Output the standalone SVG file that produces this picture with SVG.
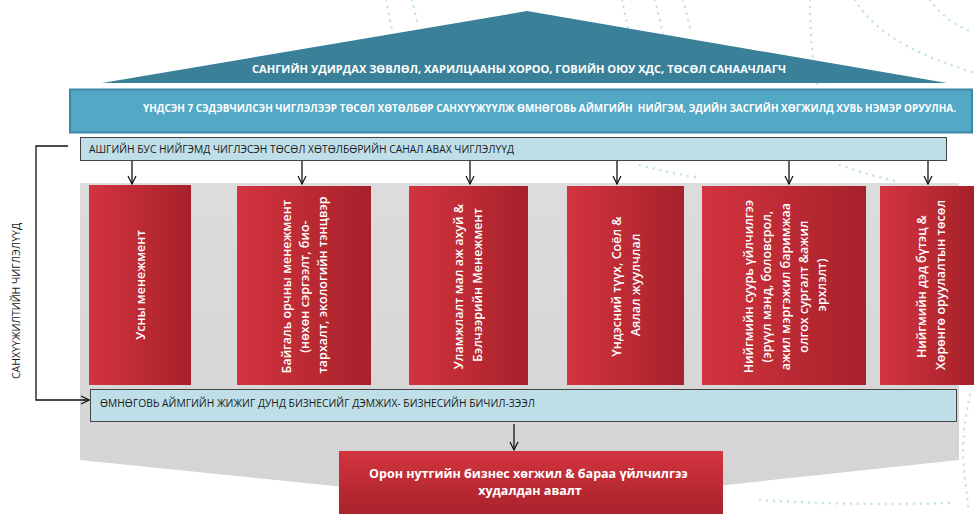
<svg xmlns="http://www.w3.org/2000/svg" width="974" height="514" viewBox="0 0 974 514">
  <defs>
    <linearGradient id="redH" x1="0" y1="0" x2="1" y2="0">
      <stop offset="0" stop-color="#d3343f"/>
      <stop offset="1" stop-color="#a6212a"/>
    </linearGradient>
    <linearGradient id="redV" x1="0" y1="0" x2="0" y2="1">
      <stop offset="0" stop-color="#d2343e"/>
      <stop offset="1" stop-color="#a9222b"/>
    </linearGradient>
    <linearGradient id="grayG" x1="0" y1="0" x2="0" y2="1">
      <stop offset="0" stop-color="#dcdcdc"/>
      <stop offset="1" stop-color="#d4d4d4"/>
    </linearGradient>
    <marker id="arr" viewBox="0 0 10 10" refX="9" refY="5" markerWidth="10" markerHeight="10" markerUnits="userSpaceOnUse" orient="auto">
      <path d="M1,1 L9,5 L1,9" fill="none" stroke="#111" stroke-width="1.2"/>
    </marker>
  </defs>
  <style>
    .dots { fill: none; stroke: #c4e4e7; stroke-width: 2.6; stroke-linecap: round; stroke-dasharray: 0 7; }
    .hdr { font-family: "Open Sans", "DejaVu Sans", sans-serif; font-weight: 700; fill: #ffffff; }
    .bar { font-family: "Open Sans", "DejaVu Sans", sans-serif; font-weight: 400; fill: #1a1a1a; }
    .col { font-family: "Open Sans", "DejaVu Sans", sans-serif; font-weight: 600; font-size: 12.5px; fill: #ffffff; text-anchor: middle; }
    .redbox { fill: url(#redH); }
    .conn { fill: none; stroke: #111; stroke-width: 1.3; }
  </style>
  <rect width="974" height="514" fill="#ffffff"/>

  <!-- background dotted decoration -->
  <g id="decoration">
    <path class="dots" d="M386,0 C388,10 390,20 392,30"/>
    <path class="dots" d="M412,0 C414,8 416,18 418,26"/>
    <path class="dots" d="M622,0 C626,20 630,40 640,60"/>
    <path class="dots" d="M655,0 C660,20 664,40 668,62"/>
    <path class="dots" d="M683,0 C686,10 688,20 690,28"/>
    <path class="dots" d="M810,0 C810,30 812,60 818,88"/>
    <path class="dots" d="M855,0 C870,25 900,50 972,72"/>
    <path class="dots" d="M930,0 C940,15 955,25 972,32"/>
    <path class="dots" d="M640,165 C660,170 680,175 700,178"/>
    <path class="dots" d="M840,165 C860,172 880,178 900,182"/>
    <path class="dots" d="M970,395 C964,420 961,450 965,480 C967,495 968,505 969,512"/>
    <path class="dots" d="M760,500 C820,504 880,505 950,503"/>
  </g>

  <!-- roof -->
  <g id="roof">
    <polygon points="527,11 947,83 102,83" fill="#3a8099"/>
    <text class="hdr" x="252" y="73" font-size="11" textLength="534" lengthAdjust="spacingAndGlyphs">САНГИЙН УДИРДАХ ЗӨВЛӨЛ, ХАРИЛЦААНЫ ХОРОО, ГОВИЙН ОЮУ ХДС, ТӨСӨЛ САНААЧЛАГЧ</text>
  </g>

  <!-- goal bar -->
  <g id="goal">
    <rect x="70" y="89.5" width="902" height="43" fill="#53a8c6" stroke="#3b87a5" stroke-width="2"/>
    <text class="hdr" transform="translate(143,112) scale(1,1.1)" x="0" y="0" font-size="10" textLength="813" lengthAdjust="spacingAndGlyphs" xml:space="preserve">ҮНДСЭН 7 СЭДЭВЧИЛСЭН ЧИГЛЭЛЭЭР ТӨСӨЛ ХӨТӨЛБӨР САНХҮҮЖҮҮЛЖ ӨМНӨГОВЬ АЙМГИЙН  НИЙГЭМ, ЭДИЙН ЗАСГИЙН ХӨГЖИЛД ХУВЬ НЭМЭР ОРУУЛНА.</text>
  </g>

  <!-- top light bar -->
  <g id="proposals">
    <rect x="80.5" y="137.5" width="866" height="23" fill="#bfdfe8" stroke="#444" stroke-width="1"/>
    <text class="bar" x="89" y="152.5" font-size="10" textLength="425" lengthAdjust="spacingAndGlyphs">АШГИЙН БУС НИЙГЭМД ЧИГЛЭСЭН ТӨСӨЛ ХӨТӨЛБӨРИЙН САНАЛ АВАХ ЧИГЛЭЛҮҮД</text>
  </g>

  <!-- gray panel -->
  <g id="panel">
    <polygon points="80,183 959,183 959,460 530,506 80,460" fill="url(#grayG)"/>
  </g>

  <!-- columns -->
  <g id="col1">
    <rect class="redbox" x="89" y="185" width="102" height="200"/>
    <text class="col" transform="translate(140,285) rotate(-90)" y="4.5">Усны менежмент</text>
  </g>
  <g id="col2">
    <rect class="redbox" x="237" y="186" width="134" height="199"/>
    <text class="col" transform="translate(304.5,285) rotate(-90)">
      <tspan x="0" y="-13.8">Байгаль орчны менежмент</tspan>
      <tspan x="0" y="4.5">(нөхөн сэргээлт, био-</tspan>
      <tspan x="0" y="22.8">тархалт, экологийн тэнцвэр</tspan>
    </text>
  </g>
  <g id="col3">
    <rect class="redbox" x="409" y="186" width="119" height="199"/>
    <text class="col" transform="translate(468,285) rotate(-90)">
      <tspan x="0" y="-4.6">Уламжлалт мал аж ахуй &amp;</tspan>
      <tspan x="0" y="13.7">Бэлчээрийн Менежмент</tspan>
    </text>
  </g>
  <g id="col4">
    <rect class="redbox" x="567" y="186" width="117" height="199"/>
    <text class="col" transform="translate(626,285) rotate(-90)">
      <tspan x="0" y="-4.6">Үндэсний түүх, Соёл &amp;</tspan>
      <tspan x="0" y="13.7">Аялал жуулчлал</tspan>
    </text>
  </g>
  <g id="col5">
    <rect class="redbox" x="702" y="186" width="164" height="199"/>
    <text class="col" transform="translate(785,285) rotate(-90)">
      <tspan x="0" y="-32.1">Нийгмийн суурь үйлчилгээ</tspan>
      <tspan x="0" y="-13.8">(эрүүл мэнд, боловсрол,</tspan>
      <tspan x="0" y="4.5">ажил мэргэжил баримжаа</tspan>
      <tspan x="0" y="22.8">олгох сургалт &amp;ажил</tspan>
      <tspan x="0" y="41.1">эрхлэлт)</tspan>
    </text>
  </g>
  <g id="col6">
    <rect class="redbox" x="880" y="186" width="94" height="199"/>
    <text class="col" transform="translate(931,285) rotate(-90)">
      <tspan x="0" y="-4.6">Нийгмийн дэд бүтэц &amp;</tspan>
      <tspan x="0" y="13.7">Хөрөнгө оруулалтын төсөл</tspan>
    </text>
  </g>

  <!-- bottom light bar -->
  <g id="sme">
    <rect x="90.5" y="389.5" width="866" height="32" fill="#bfdfe8" stroke="#444" stroke-width="1"/>
    <text class="bar" x="100" y="407" font-size="10.8" textLength="435" lengthAdjust="spacingAndGlyphs">ӨМНӨГОВЬ АЙМГИЙН ЖИЖИГ ДУНД БИЗНЕСИЙГ ДЭМЖИХ- БИЗНЕСИЙН БИЧИЛ-ЗЭЭЛ</text>
  </g>

  <!-- bottom red box -->
  <g id="local">
    <rect x="339" y="451" width="384" height="63" fill="url(#redV)"/>
    <text class="hdr" font-size="12.5" text-anchor="middle">
      <tspan x="530" y="478">Орон нутгийн бизнес хөгжил &amp; бараа үйлчилгээ</tspan>
      <tspan x="530" y="495">худалдан авалт</tspan>
    </text>
  </g>

  <!-- side label -->
  <g id="funding-label">
    <text class="bar" font-size="10.5" text-anchor="middle" transform="translate(20,301) rotate(-90)">САНХҮҮЖИЛТИЙН ЧИГЛЭЛҮҮД</text>
  </g>

  <!-- connectors -->
  <g id="connectors">
    <line class="conn" x1="132" y1="161" x2="132" y2="184" marker-end="url(#arr)"/>
    <line class="conn" x1="302" y1="161" x2="302" y2="184" marker-end="url(#arr)"/>
    <line class="conn" x1="470" y1="161" x2="470" y2="184" marker-end="url(#arr)"/>
    <line class="conn" x1="617" y1="161" x2="617" y2="184" marker-end="url(#arr)"/>
    <line class="conn" x1="789" y1="161" x2="789" y2="184" marker-end="url(#arr)"/>
    <line class="conn" x1="928" y1="161" x2="928" y2="184" marker-end="url(#arr)"/>
    <line class="conn" x1="514" y1="424" x2="514" y2="450" marker-end="url(#arr)"/>
    <path class="conn" d="M68,146 H36 V400 H89" stroke-width="1.8" marker-end="url(#arr)"/>
  </g>
</svg>
